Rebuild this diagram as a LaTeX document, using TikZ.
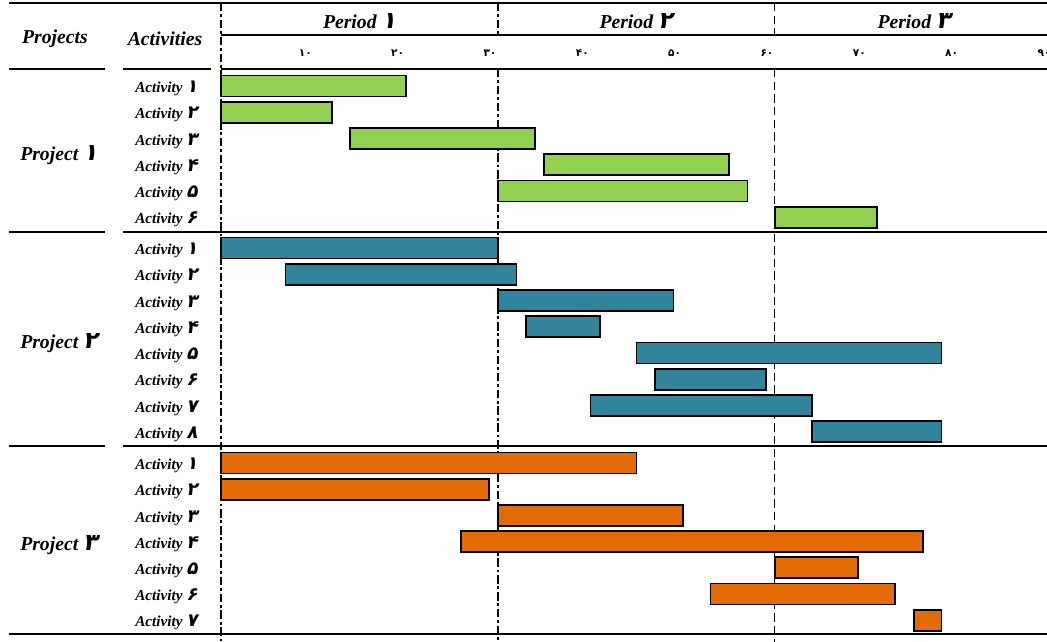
\documentclass[tikz,border=0pt]{standalone}
\usepackage{fontspec}
\setmainfont{Liberation Serif}
\newfontfamily\fadigits[Script=Arabic,FakeSlant=0.2,Scale=1.2]{DejaVu Sans Bold}
\newfontfamily\faticks[Script=Arabic]{DejaVu Sans Bold}
\newcommand{\fanum}[1]{{\upshape\mdseries\fadigits #1}}
\usepackage{xcolor}
\usepackage{tikz}
\usetikzlibrary{positioning}
\definecolor{pgreen}{RGB}{146,208,80}
\definecolor{pteal}{RGB}{49,132,155}
\definecolor{porange}{RGB}{227,108,9}

\begin{document}
\begin{tikzpicture}[x=0.025cm, y=-0.025cm,
    frame/.style={line width=1.4pt},
    head/.style={font=\fontsize{14}{16}\selectfont\bfseries\itshape, inner sep=0pt},
    proj/.style={head, anchor=west},
    act/.style={font=\fontsize{10.8}{12}\selectfont\bfseries\itshape, anchor=west, inner sep=0pt},
    tick/.style={font=\fontsize{7.5}{9}\selectfont\faticks, inner sep=0pt},
    bar/.style={draw, line width=1.2pt},
    period/.style={line width=1.2pt, dash pattern=on 6pt off 2pt on 2pt off 2pt},
    split/.style={line width=0.6pt, dash pattern=on 6pt off 3pt}]
    \useasboundingbox (0,0) rectangle (1047,642);

    \draw[frame] (9,3) -- (1047,3);
    \draw[frame] (221,35) -- (1047,35);
    \draw[frame] (9,69) -- (105,69) (123,69) -- (211,69) (221,69) -- (1047,69);
    \draw[frame] (9,232) -- (105,232) (123,232) -- (1047,232);
    \draw[frame] (9,446) -- (105,446) (123,446) -- (1047,446);
    \draw[frame] (9,634) -- (1047,634);

    \draw[period] (221,3) -- (221,642);
    \draw[period] (498,3) -- (498,35) (498,69) -- (498,642);
    \draw[split] (774,3) -- (774,35) (774,69) -- (774,642);

    \node[head] (projects) at (55,39) {Projects};
    \node[head] (activities) at (165,39) {Activities};
    \foreach \n/\x [count=\i] in {۱/359.5, ۲/636, ۳/914}
        \node[head] (period\i) at (\x,21) {Period \fanum{\n}};
    \foreach \d [count=\t] in {۱۰,۲۰,۳۰,۴۰,۵۰,۶۰,۷۰,۸۰,۹۰}
        \node[tick] (tick\t) at ({221+92.33*\t-8},53) {\d};

    \node[proj] (proj1) at (20,155) {Project \fanum{۱}};
    \node[proj] (proj2) at (20,343) {Project \fanum{۲}};
    \node[proj] (proj3) at (20,545) {Project \fanum{۳}};

    \foreach \n [count=\i from 0] in {۱,۲,۳,۴,۵,۶}
        \node[act] (p1act\n) at (135,{88.5+26.25*\i}) {Activity \fanum{\n}};
    \foreach \n [count=\i from 0] in {۱,۲,۳,۴,۵,۶,۷,۸}
        \node[act] (p2act\n) at (135,{250.5+26.25*\i}) {Activity \fanum{\n}};
    \foreach \n [count=\i from 0] in {۱,۲,۳,۴,۵,۶,۷}
        \node[act] (p3act\n) at (135,{465.5+26.2*\i}) {Activity \fanum{\n}};

    \begin{scope}[shift={(221,0)}, x=0.23083cm]
        \foreach \s/\e [count=\i from 0] in {0/20,0/12,14/34,35/55,30/57,60/71}
            \draw[bar, fill=pgreen] (\s,{75.5+26.25*\i}) rectangle (\e,{96.5+26.25*\i});
        \foreach \s/\e [count=\i from 0] in {0/30,7/32,30/49,33/41,45/78,47/59,40/64,64/78}
            \draw[bar, fill=pteal] (\s,{237.5+26.25*\i}) rectangle (\e,{258.5+26.25*\i});
        \foreach \s/\e [count=\i from 0] in {0/45,0/29,30/50,26/76,60/69,53/73,75/78}
            \draw[bar, fill=porange] (\s,{452.5+26.2*\i}) rectangle (\e,{473.5+26.2*\i});
    \end{scope}
\end{tikzpicture}
\end{document}
